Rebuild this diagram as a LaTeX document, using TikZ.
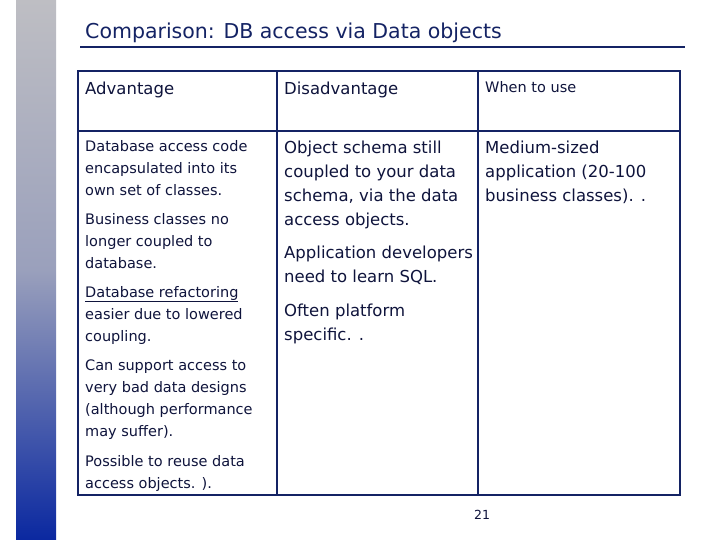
\documentclass[tikz,border=0pt]{standalone}
\usepackage{fontspec}
\setmainfont{DejaVu Sans}
\definecolor{navy}{RGB}{20,35,100}
\definecolor{ink}{RGB}{15,20,60}
\definecolor{bartop}{RGB}{190,190,195}
\definecolor{barbot}{RGB}{10,40,160}
\begin{document}
\begin{tikzpicture}[x=1pt,y=-1pt,
  cell/.style={anchor=north west,inner sep=0pt,align=left,text=ink},
  small/.style={cell,font=\fontsize{14.5}{22}\selectfont},
  big/.style={cell,font=\fontsize{16.5}{24}\selectfont},
  grid/.style={draw=navy,line width=2.2pt}]
\useasboundingbox (0,0) rectangle (720,540);
\fill[white] (0,0) rectangle (720,540);
\shade[top color=bartop,bottom color=barbot,middle color=bartop!80!barbot] (16,0) rectangle (56,540);
\node[cell,anchor=south west,font=\fontsize{20.5}{22}\selectfont,text=navy] (title) at (85,43) {Comparison: DB access via Data objects};
\draw[navy,line width=2.2pt] (80,47) -- (685,47);
\draw[grid] (78,71) rectangle (680,495);
\draw[grid] (78,131) -- (680,131);
\draw[grid] (277,71) -- (277,495);
\draw[grid] (478,71) -- (478,495);
\node[big] (h1) at (85,82) {Advantage};
\node[big] (h2) at (284,82) {Disadvantage};
\node[small] (h3) at (485,81) {When to use};
\node[small] (a1) at (85,140) {Database access code\\encapsulated into its\\own set of classes.};
\node[small] (a2) at (85,213) {Business classes no\\longer coupled to\\database.};
\node[small] (a3) at (85,286) {\underline{Database refactoring}\\easier due to lowered\\coupling.};
\node[small] (a4) at (85,360) {Can support access to\\very bad data designs\\(although performance\\may suffer).};
\node[small] (a5) at (85,455) {Possible to reuse data\\access objects. ).};
\node[big] (d1) at (284,141) {Object schema still\\coupled to your data\\schema, via the data\\access objects.};
\node[big] (d2) at (284,246) {Application developers\\need to learn SQL.};
\node[big] (d3) at (284,304) {Often platform\\specific. .};
\node[big] (w1) at (485,141) {Medium-sized\\application (20-100\\business classes). .};
\node[cell,font=\fontsize{12.5}{14}\selectfont] (pg) at (474,510) {21};
\end{tikzpicture}
\end{document}
